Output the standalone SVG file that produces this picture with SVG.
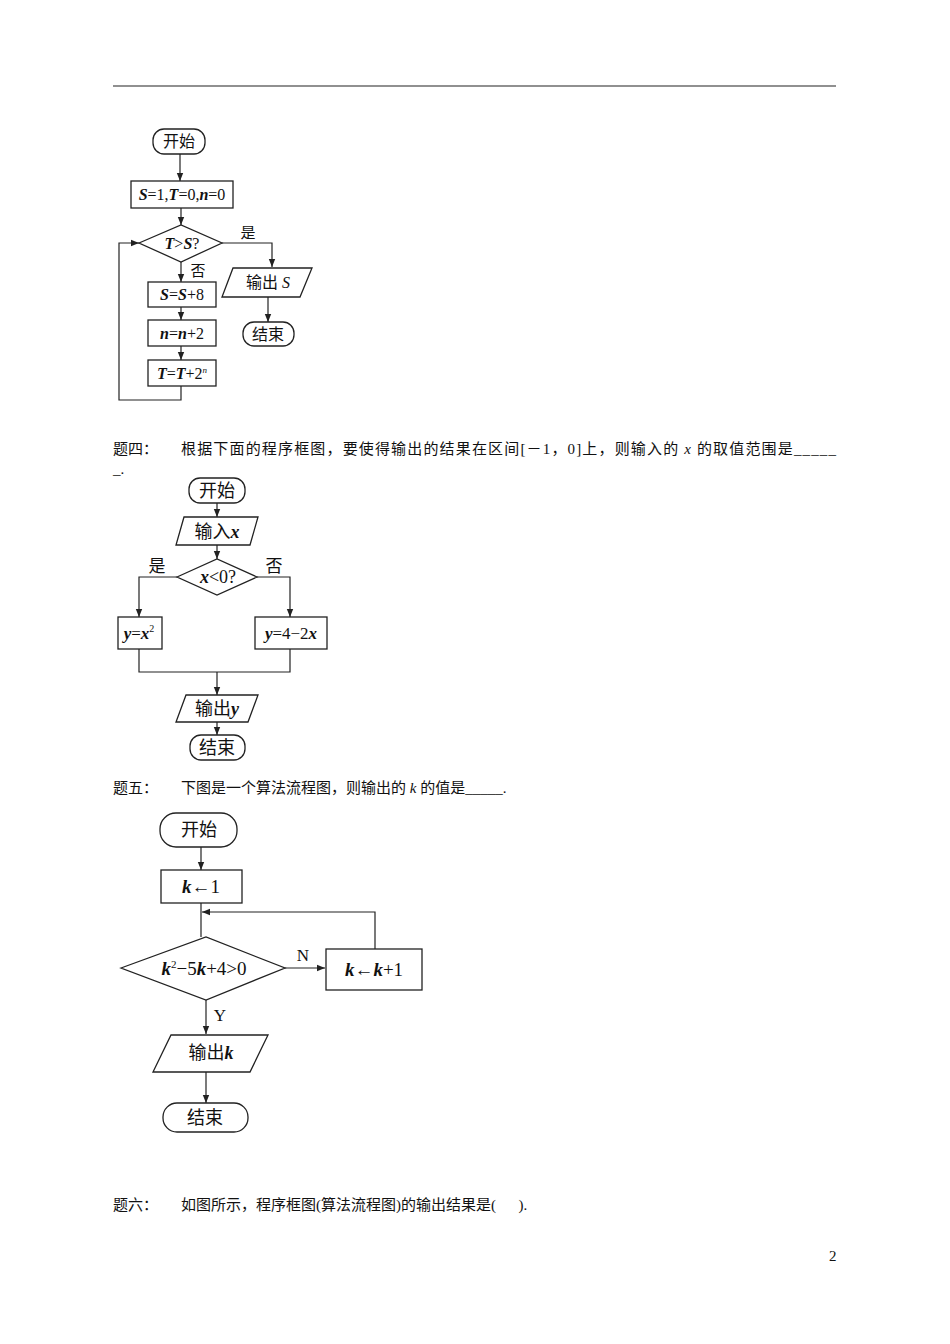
<svg xmlns="http://www.w3.org/2000/svg" width="950" height="1344" viewBox="0 0 950 1344">
<defs>
<marker id="a" viewBox="0 0 10 10" refX="10" refY="5" markerWidth="7" markerHeight="7" orient="auto"><path d="M0,1 L10,5 L0,9 Z" fill="#222"/></marker>
<style>
.s{fill:#fff;stroke:#222;stroke-width:1.3}
.l{fill:none;stroke:#222;stroke-width:1.2}
.t{font-family:"Liberation Serif","Noto Sans CJK SC",serif;fill:#111;text-anchor:middle}
.p{font-family:"Liberation Serif","Noto Sans CJK SC",serif;fill:#111;font-size:15px}
.i{font-style:italic;font-weight:bold}
</style>
</defs>
<rect width="950" height="1344" fill="#fff"/>
<line x1="113" y1="86" x2="836" y2="86" stroke="#222" stroke-width="1.2"/>
<text class="p" x="113" y="454">题四：</text>
<text class="p" x="181" y="454" textLength="655" lengthAdjust="spacing">根据下面的程序框图，要使得输出的结果在区间[－1，0]上，则输入的 <tspan font-style="italic">x</tspan> 的取值范围是_____</text>
<text class="p" x="113" y="474">_.</text>
<text class="p" x="113" y="793">题五：</text>
<text class="p" x="181" y="793">下图是一个算法流程图，则输出的 <tspan font-style="italic">k</tspan> 的值是_____.</text>
<text class="p" x="113" y="1210">题六：</text>
<text class="p" x="181" y="1210" xml:space="preserve">如图所示，程序框图(算法流程图)的输出结果是(      ).</text>
<text class="p" x="829" y="1261">2</text>

<g id="connectors">
<path class="l" d="M180,154 V181" marker-end="url(#a)"/>
<path class="l" d="M181,208 V225" marker-end="url(#a)"/>
<path class="l" d="M222,243 H272 V267" marker-end="url(#a)"/>
<path class="l" d="M268,297 V322" marker-end="url(#a)"/>
<path class="l" d="M181,262 V282" marker-end="url(#a)"/>
<path class="l" d="M181,307 V320" marker-end="url(#a)"/>
<path class="l" d="M181,346 V360" marker-end="url(#a)"/>
<path class="l" d="M181,386 V400 H119 V243 H139" marker-end="url(#a)"/>
<text class="t" x="248" y="238" font-size="15">是</text>
<text class="t" x="198" y="276" font-size="15">否</text>

<path class="l" d="M217,503 V517" marker-end="url(#a)"/>
<path class="l" d="M217,545 V559" marker-end="url(#a)"/>
<path class="l" d="M177,577 H139 V617" marker-end="url(#a)"/>
<path class="l" d="M257,577 H290 V617" marker-end="url(#a)"/>
<path class="l" d="M139,649 V672 H290 V649"/>
<path class="l" d="M217,672 V695" marker-end="url(#a)"/>
<path class="l" d="M217,722 V735" marker-end="url(#a)"/>
<text class="t" x="157" y="572" font-size="17">是</text>
<text class="t" x="274" y="572" font-size="17">否</text>

<path class="l" d="M201,847 V870" marker-end="url(#a)"/>
<path class="l" d="M201,903 V937"/>
<path class="l" d="M375,949 V912 H202" marker-end="url(#a)"/>
<path class="l" d="M285,968 H325" marker-end="url(#a)"/>
<path class="l" d="M206,1000 V1034" marker-end="url(#a)"/>
<path class="l" d="M206,1072 V1103" marker-end="url(#a)"/>
<text class="t" x="303" y="961" font-size="17">N</text>
<text class="t" x="220" y="1021" font-size="17">Y</text>
</g>

<g id="n1-start"><rect class="s" x="153" y="129" width="52" height="25" rx="11"/><text class="t" x="179" y="147" font-size="16">开始</text></g>
<g id="n1-init"><rect class="s" x="131" y="181" width="102" height="27"/><text class="t" x="182" y="200" font-size="16"><tspan class="i">S</tspan>=1,<tspan class="i">T</tspan>=0,<tspan class="i">n</tspan>=0</text></g>
<g id="n1-cond"><polygon class="s" points="139,243 181,225 222,243 181,262"/><text class="t" x="182" y="249" font-size="16"><tspan class="i">T</tspan>&gt;<tspan class="i">S</tspan>?</text></g>
<g id="n1-out"><polygon class="s" points="233,268 312,268 300,297 222,297"/><text class="t" x="268" y="288" font-size="16">输出 <tspan font-style="italic">S</tspan></text></g>
<g id="n1-end"><rect class="s" x="243" y="322" width="51" height="24" rx="11"/><text class="t" x="268" y="340" font-size="16">结束</text></g>
<g id="n1-s"><rect class="s" x="148" y="282" width="68" height="25"/><text class="t" x="182" y="300" font-size="16"><tspan class="i">S</tspan>=<tspan class="i">S</tspan>+8</text></g>
<g id="n1-n"><rect class="s" x="148" y="320" width="68" height="26"/><text class="t" x="182" y="339" font-size="16"><tspan class="i">n</tspan>=<tspan class="i">n</tspan>+2</text></g>
<g id="n1-t"><rect class="s" x="148" y="360" width="68" height="26"/><text class="t" x="182" y="379" font-size="16"><tspan class="i">T</tspan>=<tspan class="i">T</tspan>+2<tspan font-size="9" dy="-6" font-style="italic">n</tspan></text></g>

<g id="n2-start"><rect class="s" x="189" y="478" width="56" height="25" rx="11"/><text class="t" x="217" y="497" font-size="18">开始</text></g>
<g id="n2-in"><polygon class="s" points="184,517 258,517 250,545 176,545"/><text class="t" x="217" y="538" font-size="18">输入<tspan class="i">x</tspan></text></g>
<g id="n2-cond"><polygon class="s" points="177,577 217,559 257,577 217,595"/><text class="t" x="218" y="583" font-size="18"><tspan class="i">x</tspan>&lt;0?</text></g>
<g id="n2-y1"><rect class="s" x="118" y="617" width="44" height="32"/><text class="t" x="139" y="639" font-size="17"><tspan class="i">y</tspan>=<tspan class="i">x</tspan><tspan font-size="10" dy="-7">2</tspan></text></g>
<g id="n2-y2"><rect class="s" x="255" y="617" width="72" height="32"/><text class="t" x="291" y="639" font-size="17"><tspan class="i">y</tspan>=4−2<tspan class="i">x</tspan></text></g>
<g id="n2-out"><polygon class="s" points="186,695 258,695 248,722 176,722"/><text class="t" x="217" y="715" font-size="18">输出<tspan class="i">y</tspan></text></g>
<g id="n2-end"><rect class="s" x="190" y="735" width="55" height="25" rx="11"/><text class="t" x="217" y="754" font-size="18">结束</text></g>

<g id="n3-start"><rect class="s" x="160" y="813" width="77" height="34" rx="16"/><text class="t" x="199" y="836" font-size="18">开始</text></g>
<g id="n3-init"><rect class="s" x="161" y="870" width="81" height="33"/><text class="t" x="201" y="893" font-size="19"><tspan class="i">k</tspan>←1</text></g>
<g id="n3-cond"><polygon class="s" points="121,968 206,937 285,968 206,1000"/><text class="t" x="204" y="975" font-size="19"><tspan class="i">k</tspan><tspan font-size="11" dy="-7">2</tspan><tspan dy="7">−5</tspan><tspan class="i">k</tspan>+4&gt;0</text></g>
<g id="n3-inc"><rect class="s" x="326" y="949" width="96" height="41"/><text class="t" x="374" y="976" font-size="19"><tspan class="i">k</tspan>←<tspan class="i">k</tspan>+1</text></g>
<g id="n3-out"><polygon class="s" points="171,1035 268,1035 250,1072 153,1072"/><text class="t" x="211" y="1059" font-size="18">输出<tspan class="i">k</tspan></text></g>
<g id="n3-end"><rect class="s" x="163" y="1103" width="85" height="29" rx="14"/><text class="t" x="205" y="1124" font-size="18">结束</text></g>
</svg>
